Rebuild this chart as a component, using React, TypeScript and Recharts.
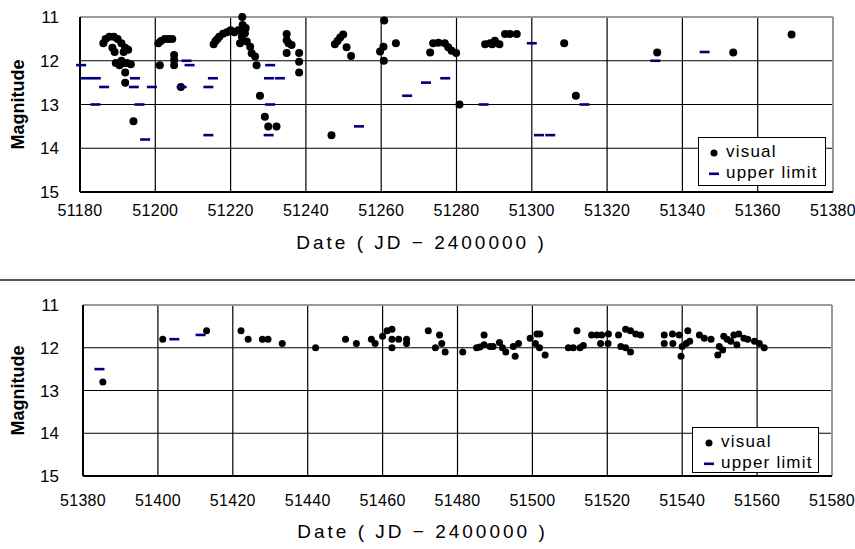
import React from "react";
import {
  ScatterChart,
  Scatter,
  XAxis,
  YAxis,
  CartesianGrid,
  ReferenceLine,
  Legend,
} from "recharts";

// x ticks (JD - 2400000) for each panel, magnitude ticks shared
const topTicks = [51180, 51200, 51220, 51240, 51260, 51280, 51300, 51320, 51340, 51360, 51380];
const bottomTicks = [51380, 51400, 51420, 51440, 51460, 51480, 51500, 51520, 51540, 51560, 51580];
const magTicks = [11, 12, 13, 14, 15];

// [JD, magnitude]
const topVisual: [number, number][] = [
  [51186.2, 11.6], [51186.8, 11.5], [51187.8, 11.45], [51189, 11.45], [51190, 11.5],
  [51191, 11.6], [51192, 11.7], [51192.8, 11.75], [51191.6, 11.8], [51188.6, 11.7],
  [51189.2, 11.8], [51189.5, 12.05], [51190.5, 12.1], [51191.5, 12.05], [51192.5, 12.05],
  [51193.5, 12.08], [51191, 12.0], [51192, 12.27], [51192, 12.5], [51194.2, 13.38],
  [51200.8, 11.6], [51201.5, 11.55], [51202.5, 11.5], [51203.5, 11.5], [51204.5, 11.5],
  [51201.2, 12.1], [51205, 11.87], [51205, 11.98], [51205, 12.1], [51206.8, 12.6],
  [51215.5, 11.62], [51216, 11.55], [51216.5, 11.5], [51217, 11.45], [51218, 11.38],
  [51219, 11.35], [51220, 11.3], [51221, 11.35],
  [51223.1, 11.0], [51223.2, 11.18], [51222, 11.3], [51223.8, 11.37], [51222.5, 11.6],
  [51224.3, 11.56], [51225.2, 11.68], [51225.6, 11.83], [51226.5, 11.9], [51226.9, 12.1],
  [51223, 11.45], [51224, 11.25],
  [51227.8, 12.8], [51229.1, 13.28], [51230, 13.5], [51232.2, 13.5],
  [51234.9, 11.39], [51234.9, 11.53], [51235.4, 11.6], [51236.2, 11.64], [51234.9, 11.82],
  [51238.2, 11.82], [51238.2, 12.02], [51238.2, 12.27],
  [51246.8, 13.7],
  [51247.7, 11.62], [51248.4, 11.55], [51249.1, 11.47], [51249.9, 11.4], [51250.8, 11.69],
  [51252, 11.89],
  [51260.8, 11.08], [51259.7, 11.79], [51260.6, 11.68], [51260.7, 12.0], [51263.9, 11.6],
  [51273, 11.81], [51273.8, 11.6], [51275.2, 11.59], [51276.9, 11.6], [51277.8, 11.69],
  [51278.7, 11.77], [51279.9, 11.82], [51280.8, 13.0],
  [51287.6, 11.62], [51288.9, 11.6], [51289.5, 11.62], [51290.2, 11.54], [51291.4, 11.62],
  [51292.9, 11.39], [51294.2, 11.39], [51296, 11.39],
  [51308.6, 11.6], [51311.7, 12.8], [51333.3, 11.81], [51353.5, 11.81], [51369, 11.4],
];

const topUpper: [number, number][] = [
  [51180.3, 12.1], [51181.6, 12.4], [51184.2, 12.4], [51186.4, 12.6], [51184.1, 13.0],
  [51194.6, 12.4], [51194.3, 12.6], [51199.1, 12.6], [51195.8, 13.0], [51197.3, 13.8],
  [51208.3, 12.0], [51209.1, 12.1], [51207, 12.6], [51215.3, 12.4], [51214.1, 12.6],
  [51214.1, 13.7], [51230.5, 12.1], [51230.2, 12.4], [51233.1, 12.4], [51230.5, 13.0],
  [51230.1, 13.7], [51254.1, 13.5], [51266.9, 12.8], [51271.9, 12.5], [51277, 12.4],
  [51287.2, 13.0], [51300, 11.6], [51301.9, 13.7], [51304.9, 13.7], [51314, 13.0],
  [51332.8, 12.0], [51345.9, 11.8],
];

const bottomVisual: [number, number][] = [
  [51385.3, 12.8], [51401.3, 11.8], [51413, 11.6], [51422.2, 11.6], [51424.1, 11.8],
  [51427.9, 11.8], [51429.4, 11.8], [51433.2, 11.9], [51442.1, 12.0], [51450.1, 11.8],
  [51453, 11.9], [51457, 11.8], [51458, 11.9], [51460, 11.73], [51461.2, 11.6],
  [51462.5, 11.57], [51462.5, 11.8], [51462.5, 12.0], [51464.3, 11.8], [51466.4, 11.8],
  [51466.4, 11.9], [51472.2, 11.6], [51475.2, 11.7], [51474.1, 12.0], [51475.8, 11.9],
  [51476.7, 12.1], [51481.4, 12.1], [51485.1, 12.0], [51486, 11.98], [51487.1, 11.7],
  [51487.1, 11.93], [51488.7, 11.97], [51489.5, 11.97], [51491.2, 11.88], [51492, 12.0],
  [51492.9, 12.1], [51494.9, 11.97], [51495.4, 12.2], [51496.3, 11.9], [51499.4, 11.78],
  [51501.2, 11.68], [51502, 11.68], [51500.8, 11.9], [51501.9, 12.0], [51503.4, 12.17],
  [51509.6, 12.0], [51510.9, 12.0], [51512.7, 12.0], [51513.6, 11.95], [51511.9, 11.6],
  [51515.8, 11.7], [51517.2, 11.7], [51518.5, 11.7], [51520.3, 11.68], [51518.2, 11.9],
  [51520.2, 11.9], [51523, 11.7], [51524.9, 11.57], [51526.2, 11.6], [51527.6, 11.68],
  [51528.9, 11.7], [51523.6, 11.97], [51524.9, 12.0], [51526.2, 12.1], [51535.2, 11.7],
  [51535.2, 11.9], [51537.4, 11.68], [51537.5, 11.9], [51539.2, 11.7], [51540, 11.97],
  [51539.7, 12.2], [51541.5, 11.6], [51541.1, 11.9], [51542, 11.85], [51544.6, 11.7],
  [51545.9, 11.78], [51547.7, 11.8], [51549.9, 11.97], [51549.5, 12.17], [51550.8, 12.05],
  [51551.1, 11.73], [51552, 11.8], [51553, 11.85], [51553.8, 11.7], [51554.6, 11.93],
  [51555.1, 11.68], [51556.5, 11.78], [51557.5, 11.8], [51559.3, 11.85], [51560.6, 11.9],
  [51561.9, 12.0],
];

const bottomUpper: [number, number][] = [
  [51384.4, 12.5], [51404.4, 11.8], [51411.4, 11.7],
];

const NAVY = "#000080";
const FONT = '"Liberation Sans", Arial, sans-serif';

const toPoints = (arr: [number, number][]) => arr.map(([jd, mag]) => ({ jd, mag }));

const dotShape = (r: number) => (p: any) => <circle cx={p.cx} cy={p.cy} r={r} fill="#000" />;
const dashShape = (p: any) => (
  <rect x={p.cx - 5} y={p.cy - 1.3} width={10} height={2.6} fill={NAVY} />
);

const LegendBox = ({ width, height, dotX, textX }: any) => (
  <div
    style={{
      width,
      height,
      boxSizing: "border-box",
      border: "1.5px solid #000",
      background: "#fff",
      fontFamily: FONT,
      fontSize: 17,
      letterSpacing: 1.2,
      color: "#000",
      position: "relative",
    }}
  >
    <svg width={20} height={height} style={{ position: "absolute", left: dotX - 10, top: 0 }}>
      <circle cx={10} cy={15} r={3.5} fill="#000" />
      <rect x={5} y={34.5} width={10} height={2.6} fill={NAVY} />
    </svg>
    <div style={{ position: "absolute", left: textX, top: 4, lineHeight: "20px" }}>visual</div>
    <div style={{ position: "absolute", left: textX, top: 25, lineHeight: "20px" }}>upper limit</div>
  </div>
);

function Panel({ visual, upper, ticks, top, height, xAxisHeight, yWidth, marginRight, xTickMargin, yTickMargin, titleOffset, dotR, legend }: any) {
  return (
    <div style={{ position: "absolute", left: 0, top, width: 855, height, fontFamily: FONT }}>
      <ScatterChart width={855} height={height} margin={{ top: 17, right: marginRight, bottom: 0, left: 0 }}>
        <CartesianGrid stroke="#000" strokeWidth={1.2} />
        <XAxis
          type="number"
          dataKey="jd"
          domain={[ticks[0], ticks[ticks.length - 1]]}
          ticks={ticks}
          interval={0}
          height={xAxisHeight}
          tickSize={0}
          tickMargin={xTickMargin}
          axisLine={{ stroke: "#000", strokeWidth: 2 }}
          tick={{ fill: "#000", fontSize: 16, letterSpacing: 0.3 }}
          label={{
            value: "Date ( JD − 2400000 )",
            position: "insideBottom",
            offset: titleOffset,
            dx: -35,
            fill: "#000",
            fontSize: 19,
            style: { letterSpacing: 3 },
          }}
        />
        <YAxis
          type="number"
          dataKey="mag"
          domain={[11, 15]}
          ticks={magTicks}
          reversed
          width={yWidth}
          tickSize={0}
          tickMargin={yTickMargin}
          axisLine={{ stroke: "#000", strokeWidth: 2 }}
          tick={{ fill: "#000", fontSize: 17 }}
          label={{
            value: "Magnitude",
            angle: -90,
            position: "insideLeft",
            offset: 18,
            fill: "#000",
            fontSize: 18,
            fontWeight: "bold",
            style: { textAnchor: "middle" },
          }}
        />
        <ReferenceLine y={11} stroke="#999" strokeWidth={2} />
        <ReferenceLine x={ticks[ticks.length - 1]} stroke="#999" strokeWidth={2} />
        <Legend
          layout="vertical"
          align="center"
          verticalAlign="middle"
          wrapperStyle={{ left: legend.left, top: legend.top, width: legend.width, height: legend.height }}
          content={() => <LegendBox {...legend} />}
        />
        <Scatter name="visual" data={toPoints(visual)} shape={dotShape(dotR)} isAnimationActive={false} />
        <Scatter name="upper limit" data={toPoints(upper)} shape={dashShape} isAnimationActive={false} />
      </ScatterChart>
    </div>
  );
}

export default function App() {
  return (
    <div style={{ position: "absolute", left: 0, top: 0, width: 855, height: 549, background: "#fff" }}>
      <Panel
        visual={topVisual}
        upper={topUpper}
        ticks={topTicks}
        top={0}
        height={280}
        xAxisHeight={88}
        yWidth={80}
        marginRight={22}
        xTickMargin={13}
        yTickMargin={21}
        titleOffset={31}
        dotR={4}
        legend={{ left: 698, top: 137, width: 128, height: 49, dotX: 15, textX: 27 }}
      />
      <div style={{ position: "absolute", left: 0, top: 279, width: 855, height: 2, background: "#555" }} />
      <Panel
        visual={bottomVisual}
        upper={bottomUpper}
        ticks={bottomTicks}
        top={288}
        height={261}
        xAxisHeight={73}
        yWidth={83}
        marginRight={23}
        xTickMargin={19}
        yTickMargin={24}
        titleOffset={11}
        dotR={3.5}
        legend={{ left: 692, top: 139, width: 127, height: 46, dotX: 16, textX: 28 }}
      />
    </div>
  );
}
